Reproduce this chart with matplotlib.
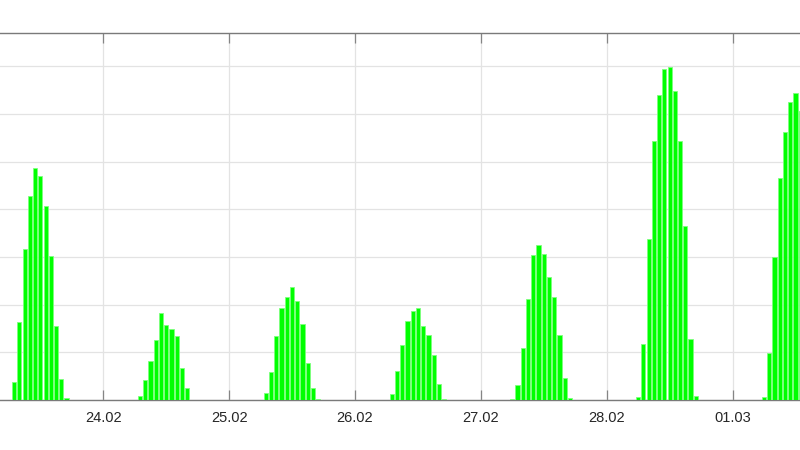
import matplotlib
matplotlib.use("Agg")
import matplotlib.pyplot as plt
import matplotlib.dates as mdates
import pandas as pd

# hourly production per day, first value at start_hour
days = ["2023-02-23", "2023-02-24", "2023-02-25", "2023-02-26",
        "2023-02-27", "2023-02-28", "2023-03-01"]
start_hour = [7, 7, 7, 7, 6, 6, 6]
day_23 = [0.38, 1.63, 3.17, 4.27, 4.87, 4.71, 4.06, 3.02, 1.55, 0.45, 0.035]
day_24 = [0.09, 0.41, 0.82, 1.25, 1.82, 1.58, 1.49, 1.34, 0.67, 0.25]
day_25 = [0.15, 0.59, 1.34, 1.93, 2.17, 2.38, 2.07, 1.59, 0.78, 0.25, 0.02]
day_26 = [0.13, 0.61, 1.16, 1.65, 1.86, 1.93, 1.55, 1.36, 0.94, 0.33, 0.02]
day_27 = [0.02, 0.32, 1.09, 2.12, 3.05, 3.26, 3.07, 2.59, 2.16, 1.36, 0.46, 0.04]
day_28 = [0.057, 1.18, 3.38, 5.43, 6.39, 6.95, 6.99, 6.49, 5.43, 3.65, 1.27, 0.08]
day_01 = [0.057, 0.98, 2.99, 4.66, 5.63, 6.26, 6.44, 6.07, 5.3, 3.8, 1.6, 0.1]
values = [day_23, day_24, day_25, day_26, day_27, day_28, day_01]

times, heights = [], []
for d, h0, vals in zip(days, start_hour, values):
    for i, v in enumerate(vals):
        times.append(pd.Timestamp(d) + pd.Timedelta(hours=h0 + i))
        heights.append(v)

fig = plt.figure(figsize=(8, 4.5), dpi=100)
ax = fig.add_axes([0, 50 / 450, 1, 367 / 450])

ax.bar(times, heights, width=0.8 / 24, color="#00ff00",
       edgecolor="#7dff7d", linewidth=0.6, zorder=3)

ax.set_xlim(pd.Timestamp("2023-02-23 04:18"), pd.Timestamp("2023-03-01 12:52"))
ax.set_ylim(0, 7.70)
ax.set_yticks(range(0, 8))
ax.xaxis.set_major_locator(mdates.DayLocator())
ax.xaxis.set_major_formatter(mdates.DateFormatter("%d.%m"))

ax.grid(True, color="#e3e3e3", linewidth=0.9, zorder=0)
ax.set_axisbelow(True)
for s in ["left", "right"]:
    ax.spines[s].set_visible(False)
for s in ["top", "bottom"]:
    ax.spines[s].set_color("#7a7a7a")
    ax.spines[s].set_linewidth(1.0)

ax.tick_params(axis="x", direction="in", top=True, length=7, width=0.9,
               color="#858585", labelsize=10.5, labelcolor="#262626", pad=8)
ax.tick_params(axis="y", left=False, labelleft=False)
for lbl in ax.get_xticklabels():
    lbl.set_fontfamily("Liberation Sans")

fig.savefig("out.png", dpi=100)
